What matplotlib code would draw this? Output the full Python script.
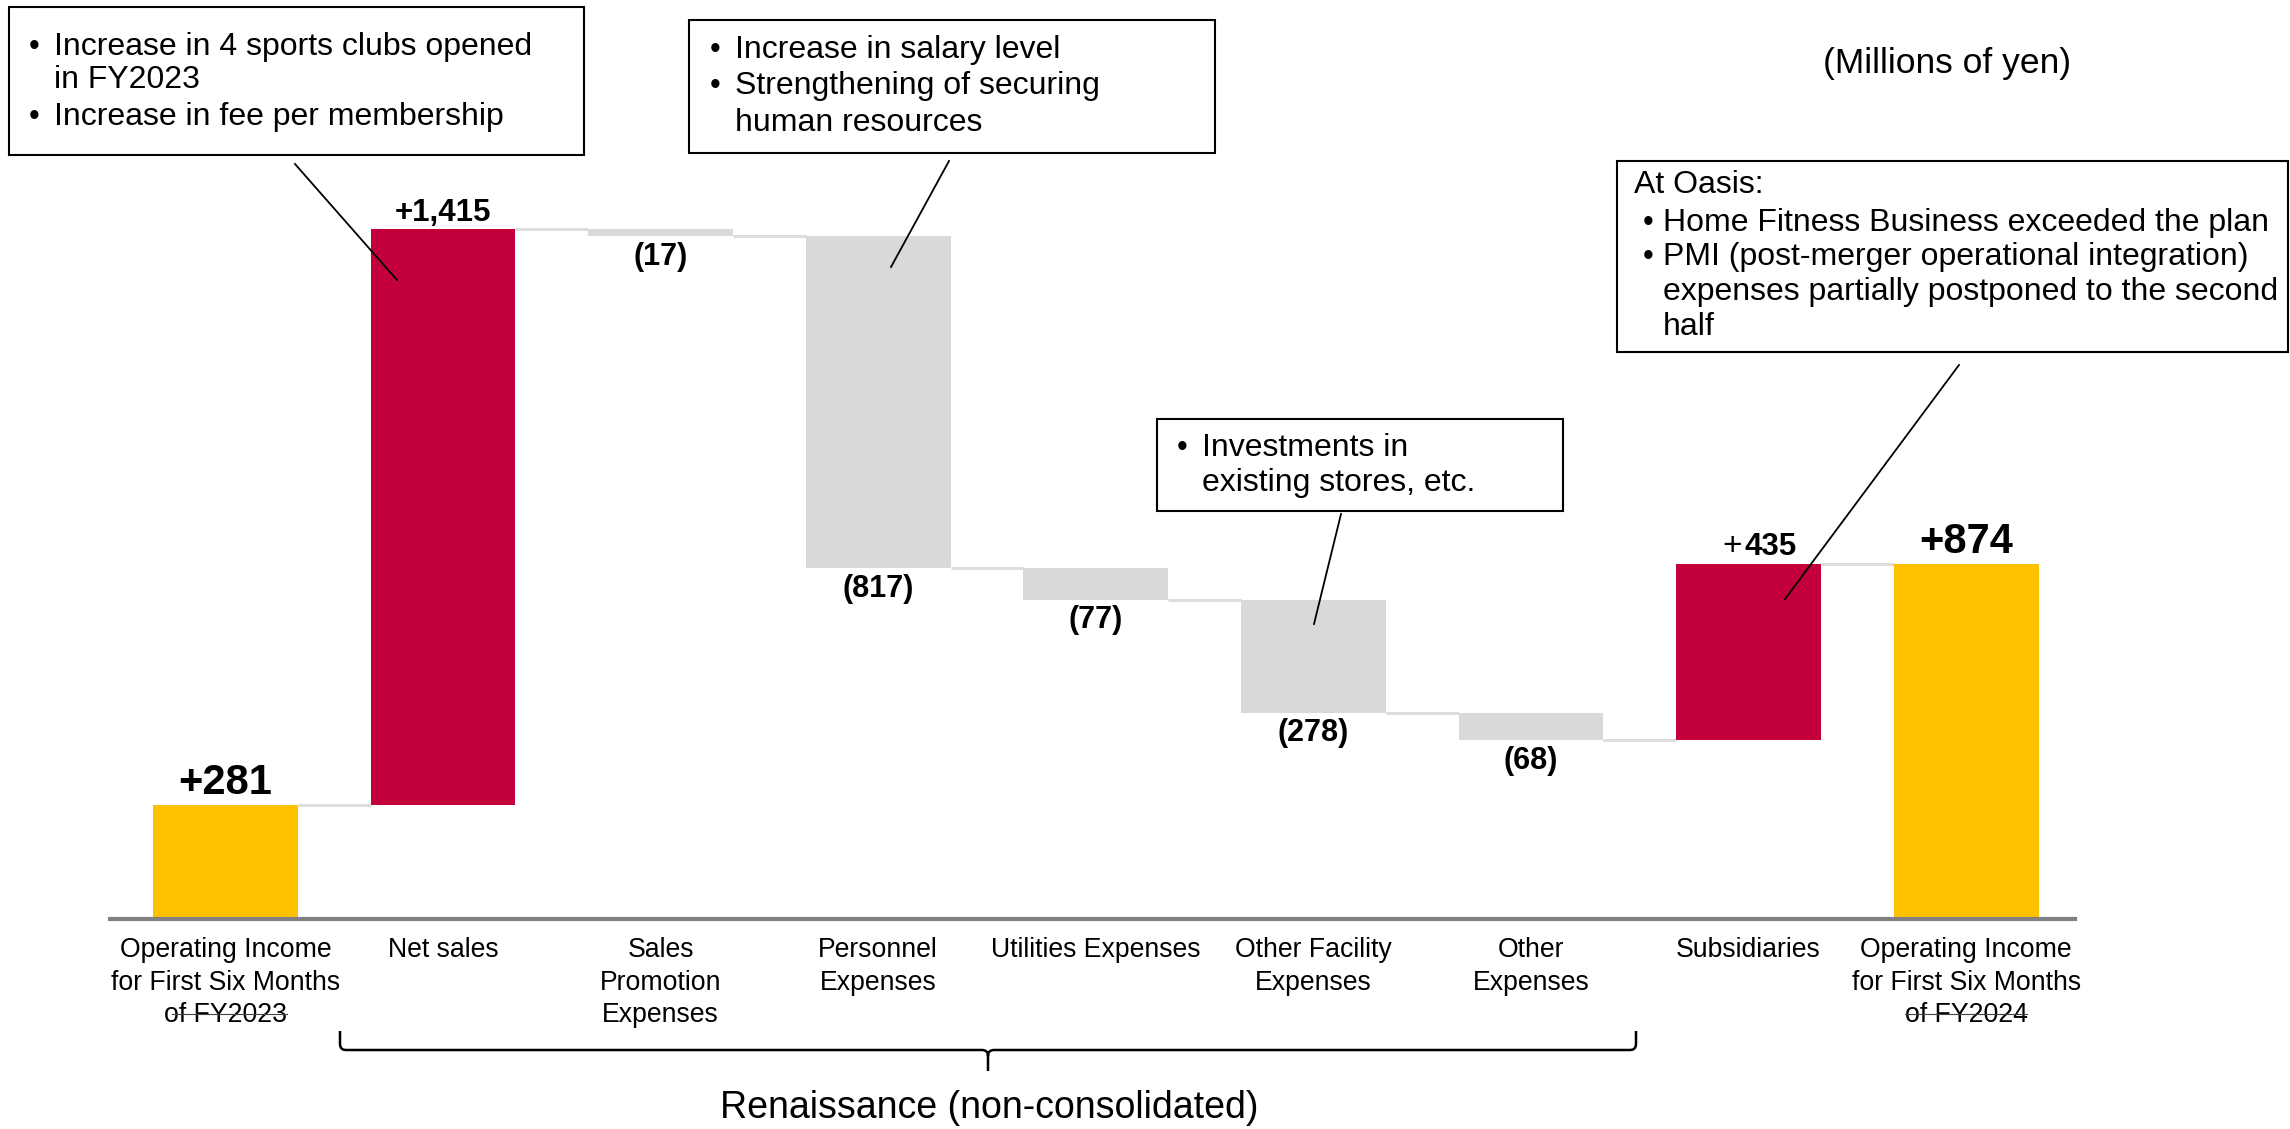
import numpy as np
import matplotlib
matplotlib.use("Agg")
import matplotlib.pyplot as plt
from matplotlib.patches import Rectangle, PathPatch
from matplotlib.lines import Line2D
from matplotlib.path import Path

plt.rcParams['font.family'] = ['Liberation Sans', 'DejaVu Sans']

# data
categories = ["Operating Income\nfor First Six Months\nof FY2023", "Net sales",
              "Sales\nPromotion\nExpenses", "Personnel\nExpenses", "Utilities Expenses",
              "Other Facility\nExpenses", "Other\nExpenses", "Subsidiaries",
              "Operating Income\nfor First Six Months\nof FY2024"]
start_value = 281
deltas = [1415, -17, -817, -77, -278, -68, 435]
end_value = 874
group_label = "Renaissance (non-consolidated)"
unit_label = "(Millions of yen)"

notes = {
    "sales": ["Increase in 4 sports clubs opened", "in FY2023", "Increase in fee per membership"],
    "personnel": ["Increase in salary level", "Strengthening of securing", "human resources"],
    "facility": ["Investments in", "existing stores, etc."],
    "oasis": ["At Oasis:", "Home Fitness Business exceeded the plan",
              "PMI (post-merger operational integration)",
              "expenses partially postponed to the second", "half"],
}

YELLOW = "#FFC000"
RED = "#C4003C"
GRAY = "#D9D9D9"

W, H = 2290, 1129
fig = plt.figure(figsize=(W / 100, H / 100), dpi=100)


def fx(x):
    return x / W


def fy(y):
    return 1 - y / H


# axes: baseline at y=919px, top 1800 at y=187px
ax = fig.add_axes([fx(110), fy(919), fx(2075) - fx(110), fy(187) - fy(919)])

# waterfall geometry
levels = np.cumsum([start_value] + deltas)
bottoms = [0] + [min(a, b) for a, b in zip(levels[:-1], levels[1:])] + [0]
heights = [start_value] + [abs(d) for d in deltas] + [end_value]
colors = [YELLOW] + [RED if d > 0 else GRAY for d in deltas] + [YELLOW]
x = np.arange(len(categories))
bw = 0.665

ax.bar(x, heights, bottom=bottoms, width=bw, color=colors, edgecolor="none", zorder=2)

# connectors
for i in range(len(categories) - 1):
    ax.hlines(levels[i], i + bw / 2, i + 1 - bw / 2, color="#DDDDDD", lw=2.2, zorder=1)

# value labels
ax.annotate(f"+{start_value:,}", (0, start_value), xytext=(0, 1), textcoords="offset points",
            ha="center", va="bottom", fontsize=30, fontweight="bold")
ax.annotate(f"+{end_value:,}", (8, end_value), xytext=(0, 1), textcoords="offset points",
            ha="center", va="bottom", fontsize=30, fontweight="bold")
for i, d in enumerate(deltas, start=1):
    top = bottoms[i] + heights[i]
    if d > 0 and i == 7:
        # thin plus sign, bold number
        ax.annotate("+", (i, top), xytext=(-5, 1), textcoords="offset points",
                    ha="right", va="bottom", fontsize=24)
        ax.annotate(f"{d:,}", (i, top), xytext=(-3, 1), textcoords="offset points",
                    ha="left", va="bottom", fontsize=22.5, fontweight="bold")
    elif d > 0:
        ax.annotate(f"+{d:,}", (i, top), xytext=(0, 1), textcoords="offset points",
                    ha="center", va="bottom", fontsize=22.5, fontweight="bold")
    else:
        ax.annotate(f"({abs(d)})", (i, bottoms[i]), xytext=(0, -4), textcoords="offset points",
                    ha="center", va="top", fontsize=22, fontweight="bold")

ax.set_xlim(-0.53, 8.5)
ax.set_ylim(0, 1800)
ax.set_yticks([])
ax.set_xticks(x, categories, fontsize=19.2, linespacing=1.33)
ax.tick_params(axis="x", length=0, pad=13)
for s in ["top", "left", "right"]:
    ax.spines[s].set_visible(False)
ax.spines["bottom"].set_color("#808080")
ax.spines["bottom"].set_linewidth(3)

# odd strike-through lines on the FY labels in the original
for x0, x1 in [(172, 287), (1905, 2027)]:
    fig.add_artist(Line2D([fx(x0), fx(x1)], [fy(1014), fy(1014)], color="#444444", lw=0.8))


def box(x0, y0, x1, y1):
    fig.add_artist(Rectangle((fx(x0), fy(y1)), fx(x1) - fx(x0), fy(y0) - fy(y1),
                             facecolor="white", edgecolor="black", lw=1.5))


def lines_at(tx, lines, ys):
    for t, yy in zip(lines, ys):
        fig.text(fx(tx), fy(yy), t, fontsize=23, va="center", ha="left")


def bullets(xb, ys):
    for yy in ys:
        fig.text(fx(xb), fy(yy), "•", fontsize=22, va="center", ha="left")


box(9, 7, 584, 155)
lines_at(54, notes["sales"], [47, 80, 117])
bullets(29, [47, 117])

box(689, 20, 1215, 153)
lines_at(735, notes["personnel"], [50, 86, 123])
bullets(710, [50, 86])

box(1157, 419, 1563, 511)
lines_at(1202, notes["facility"], [448, 483])
bullets(1177, [448])

box(1617, 161, 2288, 352)
lines_at(1634, notes["oasis"][:1], [185])
lines_at(1663, notes["oasis"][1:], [223, 257, 292, 327])
bullets(1643, [223, 257])

fig.text(fx(1947), fy(63), unit_label, fontsize=25.5, ha="center", va="center")

# leader lines
for (ax0, ay0), (ax1, ay1) in [((295, 164), (397, 280)), ((949, 161), (891, 267)),
                               ((1341, 514), (1314, 624)), ((1959, 365), (1785, 599))]:
    fig.add_artist(Line2D([fx(ax0), fx(ax1)], [fy(ay0), fy(ay1)], color="black", lw=1.3))

# brace under the Renaissance items
r = 6
verts = [(340, 1031), (340, 1050 - r), (340, 1050), (340 + r, 1050),
         (988 - r, 1050), (988, 1050), (988, 1050 + r), (988, 1071),
         (988, 1050 + r), (988, 1050), (988 + r, 1050),
         (1636 - r, 1050), (1636, 1050), (1636, 1050 - r), (1636, 1031)]
codes = [Path.MOVETO, Path.LINETO, Path.CURVE3, Path.CURVE3,
         Path.LINETO, Path.CURVE3, Path.CURVE3, Path.LINETO,
         Path.MOVETO, Path.CURVE3, Path.CURVE3,
         Path.LINETO, Path.CURVE3, Path.CURVE3, Path.LINETO]
brace = Path([(fx(a), fy(b)) for a, b in verts], codes)
fig.add_artist(PathPatch(brace, transform=fig.transFigure, facecolor="none",
                         edgecolor="black", lw=1.8))
fig.text(fx(989), fy(1108), group_label, fontsize=27, ha="center", va="center")

fig.savefig("out.png", dpi=100, facecolor="white")
